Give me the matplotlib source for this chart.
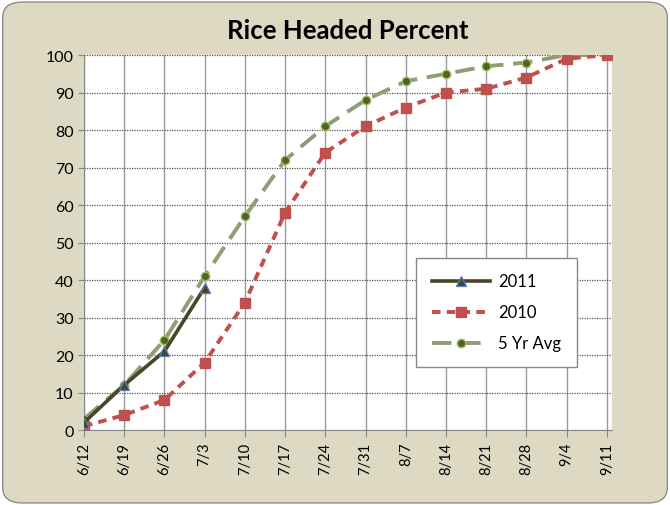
"""Rice headed percent progress chart."""

import matplotlib
matplotlib.use('Agg')
import matplotlib.pyplot as plt
from matplotlib.patches import FancyBboxPatch

plt.rcParams['font.family'] = ['Lato', 'DejaVu Sans']

# Data
weeks = ['6/12', '6/19', '6/26', '7/3', '7/10', '7/17', '7/24', '7/31',
         '8/7', '8/14', '8/21', '8/28', '9/4', '9/11']
y2011 = [2, 12, 21, 38]
y2010 = [1, 4, 8, 18, 34, 58, 74, 81, 86, 90, 91, 94, 99, 100]
avg5 = [3, 12, 24, 41, 57, 72, 81, 88, 93, 95, 97, 98, 100, 100]

bg = '#DDD9C3'

fig = plt.figure(figsize=(6.7, 5.06), dpi=100, facecolor='white')
frame = FancyBboxPatch((0.004, 0.004), 0.992, 0.99, boxstyle='round,pad=0,rounding_size=0.03',
                       transform=fig.transFigure, facecolor=bg, edgecolor='#8c8c8c', lw=1.0,
                       zorder=-10)
fig.patches.append(frame)

ax = fig.add_axes([0.1254, 0.1482, 0.7876, 0.7411])
ax.set_facecolor('white')

x = list(range(len(weeks)))
ax.plot(x, avg5, color='#8F9C76', lw=2.8, dashes=(5, 2.5), marker='o', ms=6,
        mfc='#4F6228', mec='#9BBB59', mew=1.0, label='5 Yr Avg', zorder=3)
ax.plot(x, y2010, color='#C0504D', lw=2.8, dashes=(2.2, 1.6), marker='s', ms=6.5,
        mfc='#C0504D', mec='#C0504D', label='2010', zorder=4)
ax.plot(x[:len(y2011)], y2011, color='#4A452A', lw=2.6, marker='^', ms=6.5,
        mfc='#4A452A', mec='#4F81BD', mew=0.9, label='2011', zorder=5)

ax.set_xlim(0, 13.12)
ax.set_ylim(0, 100)
ax.set_yticks(range(0, 101, 10))
ax.set_xticks(x)
ax.set_xticklabels(weeks, rotation=90, fontsize=10.5)
ax.tick_params(axis='y', labelsize=11.5, length=4, color='#888888')
ax.tick_params(axis='x', length=5, color='#888888')

ax.grid(axis='y', color='#555555', linestyle=(0, (1, 1)), lw=0.9)
ax.grid(axis='x', color='#999999', linestyle='-', lw=1.0)
ax.set_axisbelow(True)
for side in ['top', 'right']:
    ax.spines[side].set_visible(False)
for side in ['left', 'bottom']:
    ax.spines[side].set_color('#888888')

ax.set_title('Rice Headed Percent', fontsize=18.5, fontweight='bold', pad=12)

handles, labels = ax.get_legend_handles_labels()
order = [2, 1, 0]
leg = ax.legend([handles[i] for i in order], [labels[i] for i in order],
                loc='upper left', bbox_to_anchor=(0.629, 0.46), fontsize=12,
                fancybox=False, edgecolor='#888888', handlelength=3.5,
                labelspacing=0.9, borderpad=0.95, borderaxespad=0,
                handletextpad=0.5, framealpha=1)
leg.get_frame().set_linewidth(1.0)

fig.savefig('out.png', dpi=100, facecolor=fig.get_facecolor())
